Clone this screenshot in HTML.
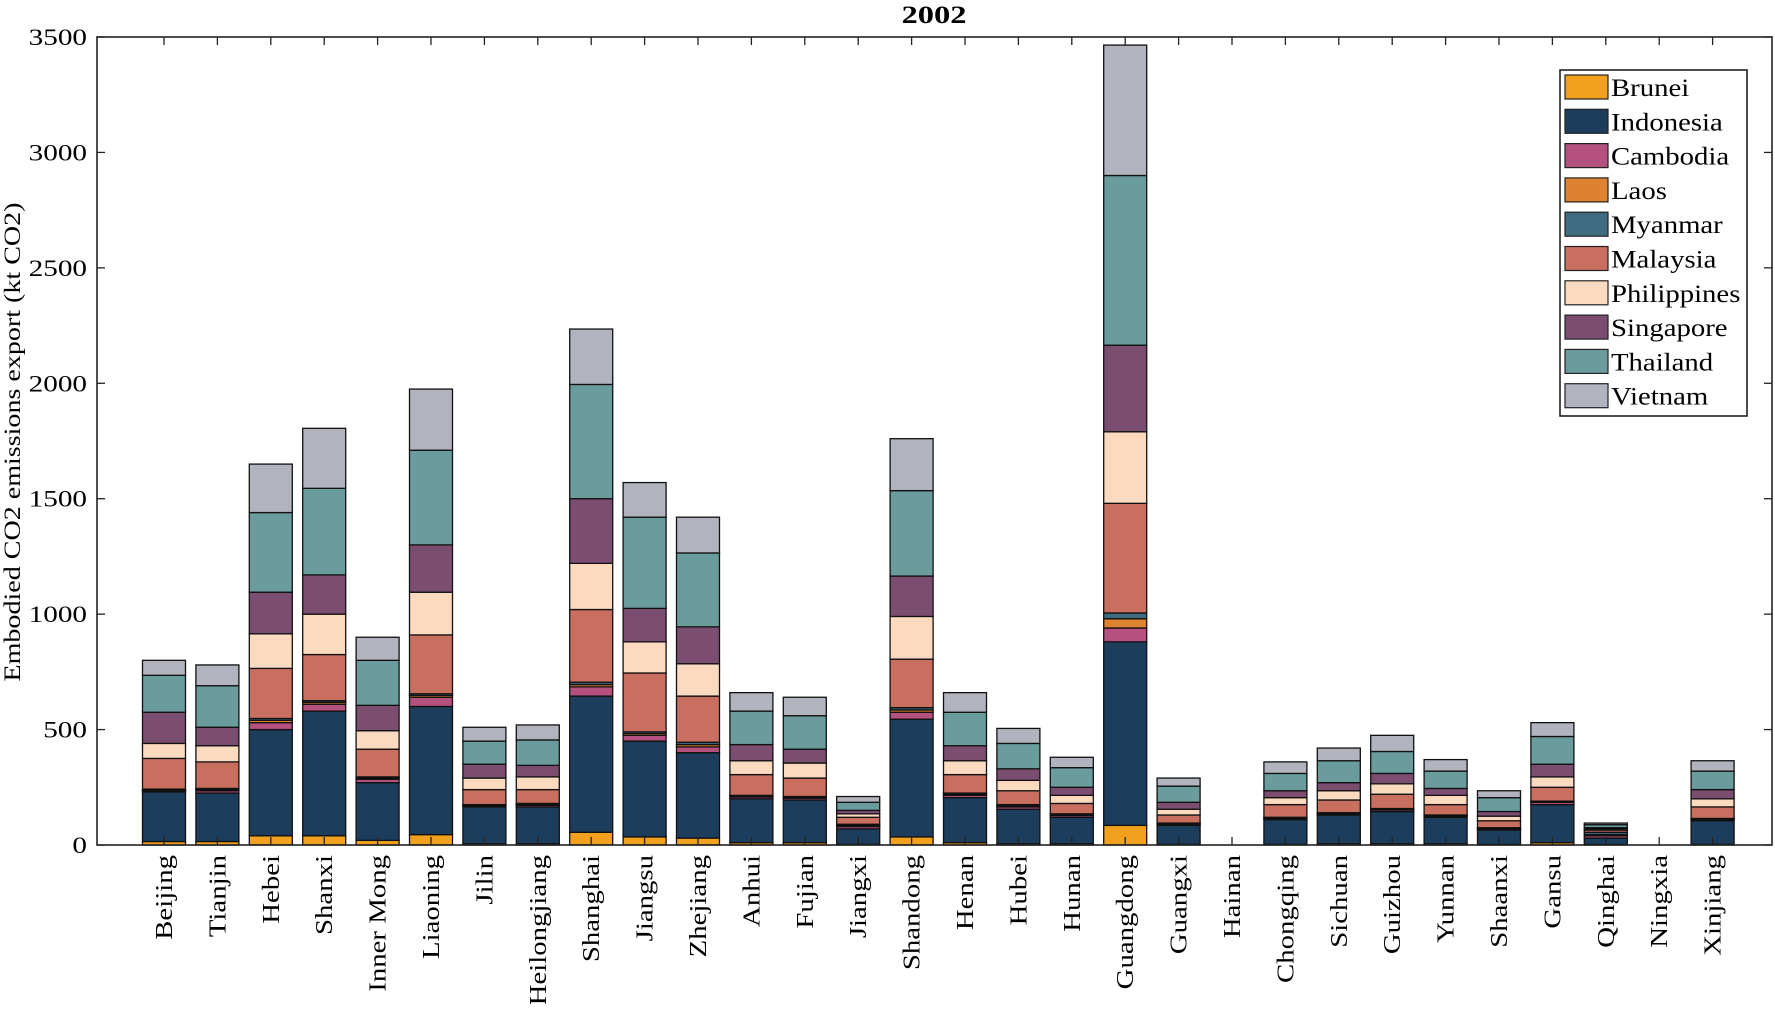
<!DOCTYPE html>
<html><head><meta charset="utf-8"><style>
html,body{margin:0;padding:0;background:#fff;}
svg text{font-family:"Liberation Serif",serif;fill:#000;}
</style></head><body>
<svg id="chart" width="1775" height="1004" viewBox="0 0 1775 1004" xmlns="http://www.w3.org/2000/svg">
<text transform="translate(934,23) scale(1.3,1)" text-anchor="middle" font-size="25" font-weight="bold">2002</text>
<text transform="translate(20,442) rotate(-90) scale(1.22,1)" text-anchor="middle" font-size="23">Embodied CO2 emissions export (kt CO2)</text>
<g id="bars"></g>
<g id="axes"></g>
<g id="legend"></g>
</svg>
<script>
const categories = ["Beijing","Tianjin","Hebei","Shanxi","Inner Mong","Liaoning","Jilin","Heilongjiang","Shanghai","Jiangsu","Zhejiang","Anhui","Fujian","Jiangxi","Shandong","Henan","Hubei","Hunan","Guangdong","Guangxi","Hainan","Chongqing","Sichuan","Guizhou","Yunnan","Shaanxi","Gansu","Qinghai","Ningxia","Xinjiang"];
const seriesNames = ["Brunei","Indonesia","Cambodia","Laos","Myanmar","Malaysia","Philippines","Singapore","Thailand","Vietnam"];
const seriesColors = ["#f2a11f","#1c3d5c","#b5517e","#dd822f","#3e6b80","#c96f60","#fcdac0","#7b4e71","#6a9c9e","#b1b3be"];
const brunei      = [15,15,40,40,20,45,5,5,55,35,30,10,10,3,35,10,5,5,85,3,0,3,5,5,5,2,10,2,0,3];
const indonesia   = [215,210,460,540,250,555,160,160,590,415,370,190,185,67,510,195,150,115,795,82,0,107,125,140,115,63,165,28,0,102];
const cambodia    = [5,10,30,30,15,40,5,7,40,25,25,8,8,10,30,10,10,8,60,5,0,5,5,7,5,5,10,10,0,5];
const laos        = [3,5,10,8,5,8,2,3,10,8,10,4,4,5,10,5,5,3,40,3,0,2,2,3,2,2,3,5,0,3];
const myanmar     = [4,5,8,7,5,7,3,5,10,7,10,3,3,5,10,5,5,4,25,2,0,3,3,3,3,3,2,10,0,2];
const malaysia    = [133,115,217,200,120,255,65,60,315,255,200,90,80,30,210,80,60,45,475,35,0,55,55,62,45,30,60,10,0,50];
const philippines = [65,70,150,175,80,185,50,55,200,135,140,60,65,15,185,60,45,35,310,25,0,30,40,45,40,20,45,5,0,35];
const singapore   = [135,80,180,170,110,205,60,50,280,145,160,70,60,15,175,65,50,35,375,30,0,30,35,45,30,20,55,5,0,40];
const thailand    = [160,180,345,375,195,410,100,110,495,395,320,145,145,35,370,145,110,85,735,70,0,75,95,95,75,60,120,13,0,80];
const vietnam     = [65,90,210,260,100,265,60,65,240,150,155,80,80,25,225,85,65,45,565,35,0,50,55,70,50,30,60,7,0,45];
const seriesValues = [brunei,indonesia,cambodia,laos,myanmar,malaysia,philippines,singapore,thailand,vietnam];
const yTicks = [0,500,1000,1500,2000,2500,3000,3500];

const NS="http://www.w3.org/2000/svg";
const PL=97, PR=1772, PT=37, PB=845, YMAX=3500;
const step=53.4, x0=164, bw=43;
function xScale(i){return x0+i*step;}
function yScale(v){return PB-(v/YMAX)*(PB-PT);}
function mk(tag,attrs,parent){const e=document.createElementNS(NS,tag);for(const k in attrs)e.setAttribute(k,attrs[k]);parent.appendChild(e);return e;}

const bars=document.getElementById('bars');
categories.forEach((c,i)=>{
  let cum=0;
  seriesValues.forEach((arr,s)=>{
    const v=arr[i];
    if(v<=0)return;
    const y1=yScale(cum), y2=yScale(cum+v);
    const r=mk('rect',{x:xScale(i)-bw/2,y:y2,width:bw,height:y1-y2,fill:seriesColors[s],stroke:'#111','stroke-width':1.3},bars);
    
    
    cum+=v;
  });
});

const axes=document.getElementById('axes');
const frame=mk('rect',{x:PL,y:PT,width:PR-PL,height:PB-PT,fill:'none',stroke:'#222','stroke-width':1.6},axes);


yTicks.forEach(t=>{
  const y=yScale(t);
  mk('line',{x1:PL,x2:PL+8,y1:y,y2:y,stroke:'#222','stroke-width':1.3},axes);
  mk('line',{x1:PR,x2:PR-8,y1:y,y2:y,stroke:'#222','stroke-width':1.3},axes);
  const tx=mk('text',{transform:'translate('+(PL-10)+','+(y+8)+') scale(1.27,1)','text-anchor':'end','font-size':23},axes);
  tx.textContent=t;
  
  
});
categories.forEach((c,i)=>{
  const x=xScale(i);
  mk('line',{x1:x,x2:x,y1:PB,y2:PB-8,stroke:'#222','stroke-width':1.3},axes);
  mk('line',{x1:x,x2:x,y1:PT,y2:PT+8,stroke:'#222','stroke-width':1.3},axes);
  const tx=mk('text',{transform:'translate('+(x+8)+','+(PB+10)+') rotate(-90) scale(1.2,1)','text-anchor':'end','font-size':24},axes);
  tx.textContent=c;
  
  
});

const legend=document.getElementById('legend');
const lb=mk('rect',{x:1560,y:70,width:187,height:346,fill:'#fff',stroke:'#222','stroke-width':1.6},legend);


seriesNames.forEach((n,s)=>{
  const cy=87+s*34.3;
  const g=mk('g',{},legend);
  
  
  mk('rect',{x:1565,y:cy-12,width:43,height:24,fill:seriesColors[s],stroke:'#222','stroke-width':1.2},g);
  const t=mk('text',{transform:'translate(1611,'+(cy+9)+') scale(1.15,1)','font-size':25},g);
  t.textContent=n;
});
</script>
</body></html>
